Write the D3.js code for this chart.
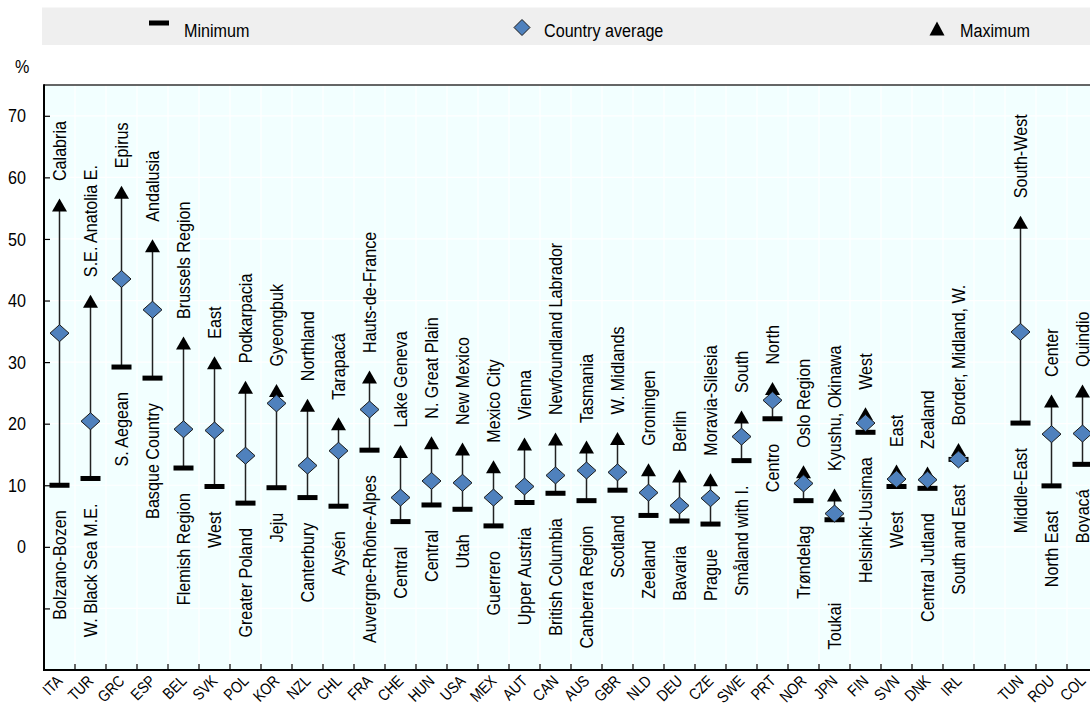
<!DOCTYPE html>
<html>
<head>
<meta charset="utf-8">
<script src="https://cdn.jsdelivr.net/npm/d3@7"></script>
<style>
  html, body { margin: 0; padding: 0; background: #ffffff; }
  svg { display: block; font-family: "Liberation Sans", Arial, sans-serif; }
</style>
</head>
<body>
<svg id="chart" width="1090" height="709"></svg>
<script>
// Regional variation within countries: minimum, country average and maximum (%)
const countries = ["ITA","TUR","GRC","ESP","BEL","SVK","POL","KOR","NZL","CHL","FRA","CHE","HUN","USA","MEX","AUT","CAN","AUS","GBR","NLD","DEU","CZE","SWE","PRT","NOR","JPN","FIN","SVN","DNK","IRL","TUN","ROU","COL"];
const minValues = [10.0,11.1,29.2,27.4,12.8,9.8,7.1,9.6,8.0,6.6,15.7,4.1,6.8,6.1,3.4,7.2,8.7,7.5,9.2,5.1,4.2,3.7,14.0,20.8,7.5,4.4,18.6,9.8,9.5,14.2,20.1,9.9,13.4];
const avgValues = [34.7,20.4,43.5,38.5,19.1,18.9,14.8,23.3,13.2,15.6,22.3,8.0,10.7,10.4,8.0,9.8,11.6,12.4,12.1,8.8,6.7,7.9,17.9,23.8,10.3,5.4,20.1,11.0,10.9,14.2,34.9,18.3,18.4];
const maxValues = [55.5,39.9,57.6,48.9,33.1,29.9,25.9,25.4,23.0,20.0,27.6,15.5,16.9,15.9,13.0,16.7,17.5,16.2,17.6,12.5,11.5,10.9,21.1,25.7,12.2,8.4,21.6,12.3,12.0,15.8,52.7,23.7,25.3];
const maxRegions = ["Calabria","S.E. Anatolia E.","Epirus","Andalusia","Brussels Region","East","Podkarpacia","Gyeongbuk","Northland","Tarapacá","Hauts-de-France","Lake Geneva","N. Great Plain","New Mexico","Mexico City","Vienna","Newfoundland Labrador","Tasmania","W. Midlands","Groningen","Berlin","Moravia-Silesia","South","North","Oslo Region","Kyushu, Okinawa","West","East","Zealand","Border, Midland, W.","South-West","Center","Quindio"];
const minRegions = ["Bolzano-Bozen","W. Black Sea M.E.","S. Aegean","Basque Country","Flemish Region","West","Greater Poland","Jeju","Canterbury","Aysén","Auvergne-Rhône-Alpes","Central","Central","Utah","Guerrero","Upper Austria","British Columbia","Canberra Region","Scotland","Zeeland","Bavaria","Prague","Småland with I.","Centro","Trøndelag","Toukai","Helsinki-Uusimaa","West","Central Jutland","South and East","Middle-East","North East","Boyacá"];
const yTickValues = [-10,0,10,20,30,40,50,60,70];
const legendLabels = ["Minimum","Country average","Maximum"];

// A blank slot separates the OECD members from the partner countries
const gapAfter = "IRL";
const GAP = "__gap__";

const W = 1090, H = 709;
const plot = { left: 44, top: 85, bottom: 670, band: 31 };
const NARROW = 0.85;              // condensed look for all text
const FONT = 19;
const AXIS_FONT = 16;
const extraMinLabelDrop = { JPN: 58 }; // the Toukai label sits lower than the rest

const keys = [];
countries.forEach(c => { keys.push(c); if (c === gapAfter) keys.push(GAP); });

const x = d3.scaleBand().domain(keys)
  .range([plot.left, plot.left + plot.band * keys.length]).padding(0);
const y = d3.scaleLinear().domain([-20, 75]).range([plot.bottom, plot.top]);
const bw = x.bandwidth();
const cx = c => x(c) + bw / 2;

const svg = d3.select("#chart");

function narrow(sel, tx, ty, rot) {
  sel.attr("transform", `translate(${tx},${ty}) rotate(${rot || 0}) scale(${NARROW},1)`);
  return sel;
}

// ---- legend band ----
svg.append("rect").attr("x", 42).attr("y", 7.5).attr("width", W - 42).attr("height", 37.5)
  .attr("fill", "#efefef");
const legend = svg.append("g");
legend.append("rect").attr("x", 149).attr("y", 20.5).attr("width", 20).attr("height", 5).attr("fill", "#000");
legend.append("path").attr("d", "M522,19.5 L530,27.5 L522,35.5 L514,27.5 Z")
  .attr("fill", "#4f81bd").attr("stroke", "#1a1a1a").attr("stroke-width", 1);
legend.append("path").attr("d", "M937,21.5 L944.5,35.5 L929.5,35.5 Z").attr("fill", "#000");
[[184, legendLabels[0]], [544, legendLabels[1]], [960, legendLabels[2]]].forEach(([lx, t]) => {
  narrow(legend.append("text").attr("font-size", FONT).attr("fill", "#000").text(t), lx, 37);
});

// unit label
narrow(svg.append("text").attr("font-size", FONT).attr("fill", "#000").text("%"), 15, 72.5);

// ---- plot background and grid ----
svg.append("rect").attr("x", plot.left).attr("y", plot.top)
  .attr("width", W - plot.left + 20).attr("height", plot.bottom - plot.top)
  .attr("fill", "#f2ffff");

const grid = svg.append("g").attr("stroke", "#ffffff").attr("stroke-width", 1.2);
grid.selectAll("line.h").data(yTickValues).join("line")
  .attr("x1", plot.left).attr("x2", W + 10)
  .attr("y1", d => y(d)).attr("y2", d => y(d));
grid.selectAll("line.v").data(keys.slice(1)).join("line")
  .attr("x1", d => x(d)).attr("x2", d => x(d))
  .attr("y1", plot.top).attr("y2", plot.bottom);

// top frame line
svg.append("line").attr("x1", plot.left).attr("x2", W + 10)
  .attr("y1", plot.top).attr("y2", plot.top)
  .attr("stroke", "#333").attr("stroke-width", 1.6);

// ---- y axis ----
const yAxis = svg.append("g").attr("transform", `translate(${plot.left},0)`)
  .call(d3.axisLeft(y).tickValues(yTickValues).tickSize(-6).tickSizeOuter(0)
    .tickFormat(d => d >= 0 ? d : ""));
yAxis.select(".domain").remove();
yAxis.selectAll(".tick line").attr("stroke", "#000").attr("stroke-width", 1.2);
yAxis.selectAll(".tick text").attr("x", null).attr("font-size", FONT)
  .attr("font-family", "Liberation Sans, Arial, sans-serif").attr("fill", "#000")
  .attr("transform", `translate(-18,0) scale(${NARROW},1)`);
svg.append("line").attr("x1", plot.left).attr("x2", plot.left)
  .attr("y1", plot.top - 0.8).attr("y2", plot.bottom + 1)
  .attr("stroke", "#000").attr("stroke-width", 2);

// ---- x axis (ticks on category boundaries) ----
const xAxis = svg.append("g");
const boundaries = keys.map(k => x(k)).concat([x(keys[keys.length - 1]) + bw]);
xAxis.selectAll("line.tick").data(boundaries.slice(1)).join("line")
  .attr("x1", d => d).attr("x2", d => d)
  .attr("y1", plot.bottom).attr("y2", plot.bottom - 6)
  .attr("stroke", "#000").attr("stroke-width", 1.2);
xAxis.append("line").attr("x1", plot.left - 1).attr("x2", W + 10)
  .attr("y1", plot.bottom).attr("y2", plot.bottom)
  .attr("stroke", "#000").attr("stroke-width", 2);
countries.forEach(c => {
  narrow(xAxis.append("text").attr("font-size", AXIS_FONT).attr("fill", "#000")
    .attr("text-anchor", "end").text(c), cx(c) + 4, plot.bottom + 12, -45);
});

// ---- marks ----
const rows = countries.map((c, i) => ({
  c, min: minValues[i], avg: avgValues[i], max: maxValues[i],
  hi: maxRegions[i], lo: minRegions[i]
}));
const marks = svg.append("g");

marks.selectAll("line.whisker").data(rows).join("line")
  .attr("x1", d => cx(d.c)).attr("x2", d => cx(d.c))
  .attr("y1", d => y(d.min)).attr("y2", d => y(d.max))
  .attr("stroke", "#222").attr("stroke-width", 1.5);

marks.selectAll("rect.min").data(rows).join("rect")
  .attr("x", d => cx(d.c) - 10).attr("y", d => y(d.min) - 2.5)
  .attr("width", 20).attr("height", 5).attr("fill", "#000");

marks.selectAll("path.max").data(rows).join("path")
  .attr("d", d => {
    const px = cx(d.c), py = y(d.max);
    return `M${px},${py - 6.5} L${px + 7.5},${py + 6.5} L${px - 7.5},${py + 6.5} Z`;
  })
  .attr("fill", "#000");

marks.selectAll("path.avg").data(rows).join("path")
  .attr("d", d => {
    const px = cx(d.c), py = y(d.avg);
    return `M${px},${py - 8.5} L${px + 9.5},${py} L${px},${py + 8.5} L${px - 9.5},${py} Z`;
  })
  .attr("fill", "#4f81bd").attr("stroke", "#1a1a1a").attr("stroke-width", 1);

// ---- region labels ----
const labels = svg.append("g").attr("font-size", FONT).attr("fill", "#000");
rows.forEach(d => {
  narrow(labels.append("text").attr("text-anchor", "start").attr("dy", "0.35em").text(d.hi),
    cx(d.c), y(d.max) - 24, -90);
  narrow(labels.append("text").attr("text-anchor", "end").attr("dy", "0.35em").text(d.lo),
    cx(d.c), y(d.min) + 25 + (extraMinLabelDrop[d.c] || 0), -90);
});
</script>
</body>
</html>
